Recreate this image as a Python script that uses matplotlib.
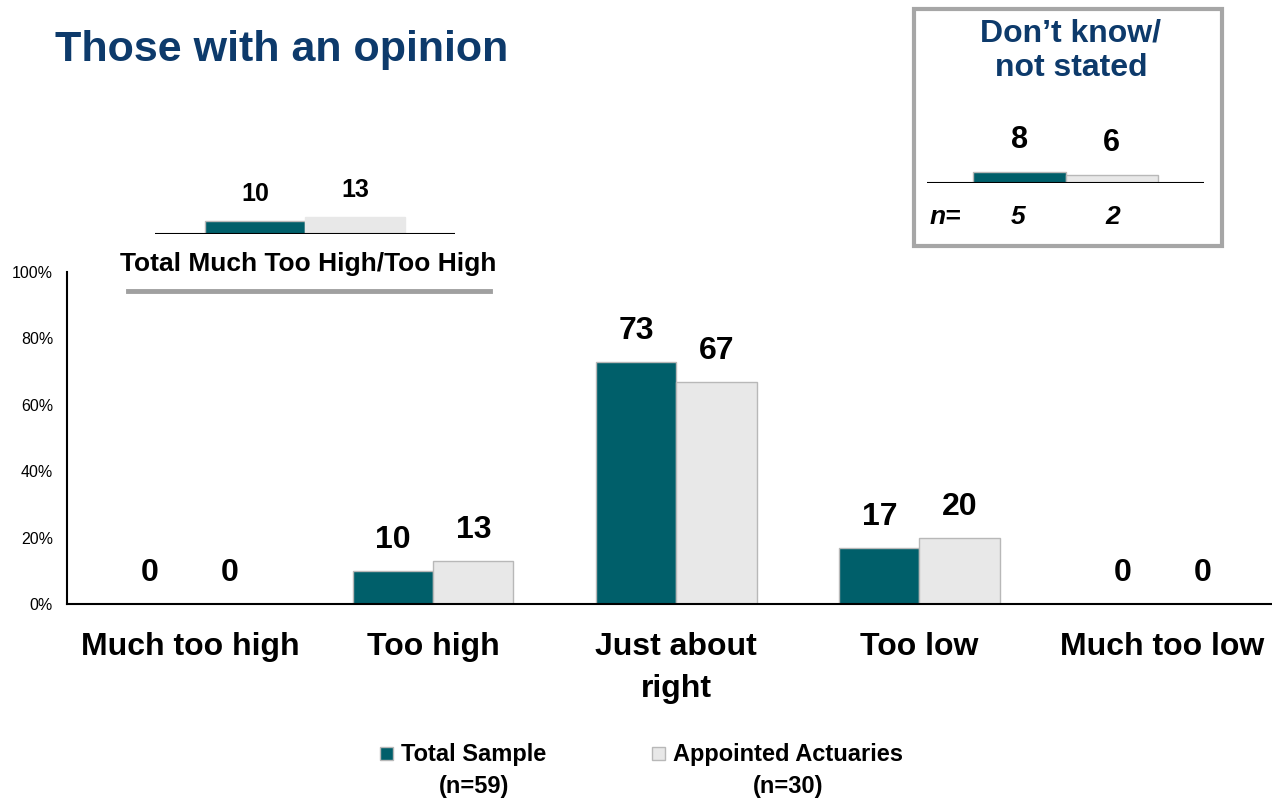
import numpy as np
import matplotlib
matplotlib.use("Agg")
import matplotlib.pyplot as plt
from matplotlib.patches import Rectangle

W, H = 1272, 800

# データ
categories = ["Much too high", "Too high", "Just about\nright", "Too low", "Much too low"]
total_sample = [0, 10, 73, 17, 0]
appointed = [0, 13, 67, 20, 0]
series_names = ["Total Sample\n(n=59)", "Appointed Actuaries\n(n=30)"]

high_total = [10, 13]      # Total Much Too High/Too High
dk_values = [8, 6]         # Don't know / not stated
dk_n = [5, 2]

teal = "#005F6A"
grey = "#E8E8E8"
edge = "#B8B8B8"
navy = "#0D3A6B"

plt.rcParams['font.family'] = ['Liberation Sans', 'DejaVu Sans']


def fx(x):
    return x / W


def fy(y):
    return 1 - y / H


fig = plt.figure(figsize=(W / 100, H / 100), dpi=100)

# メインのグラフ
ax = fig.add_axes([fx(67), fy(604), 1 - fx(67), (604 - 272) / H])
x = np.arange(len(categories))
bw = 0.33
ax.bar(x - bw / 2, total_sample, bw, color=teal, edgecolor=edge, linewidth=1)
ax.bar(x + bw / 2, appointed, bw, color=grey, edgecolor=edge, linewidth=1)
for xi, v in zip(x, total_sample):
    ax.annotate(str(v), (xi - bw / 2, v), xytext=(0, 22), textcoords="offset points",
                ha="center", va="center", fontsize=23, fontweight="bold")
for xi, v in zip(x, appointed):
    ax.annotate(str(v), (xi + bw / 2, v), xytext=(0, 22), textcoords="offset points",
                ha="center", va="center", fontsize=23, fontweight="bold")
ax.set_xlim(-0.506, 4.45)
ax.set_ylim(0, 100)
ax.set_yticks(np.arange(0, 101, 20))
ax.set_yticklabels([f"{v}%" for v in range(0, 101, 20)], fontsize=11.5)
ax.set_xticks(x)
ax.set_xticklabels(categories, fontsize=23, fontweight="bold", linespacing=1.55)
ax.tick_params(axis="both", length=0)
ax.tick_params(axis="x", pad=20)
ax.tick_params(axis="y", pad=10)
for s in ["top", "right"]:
    ax.spines[s].set_visible(False)
ax.spines["left"].set_linewidth(1.5)
ax.spines["bottom"].set_linewidth(1.5)

# タイトル
fig.text(fx(55), fy(50), "Those with an opinion", fontsize=31, fontweight="bold",
         color=navy, ha="left", va="center")

# 左上の小さいグラフ
ax1 = fig.add_axes([fx(155), fy(234), 300 / W, 40 / H])
ax1.bar([-0.5, 0.5], high_total, 1, color=[teal, grey], edgecolor=[edge, grey], linewidth=1)
for xi, v in zip([-0.5, 0.5], high_total):
    ax1.annotate(str(v), (xi, v), xytext=(0, 19), textcoords="offset points",
                 ha="center", va="center", fontsize=18, fontweight="bold")
ax1.set_xlim(-1.5, 1.5)
ax1.set_ylim(0, 30)
ax1.axis("off")
ax1.axhline(0, color="black", linewidth=1.5)
fig.text(fx(308), fy(264), "Total Much Too High/Too High", fontsize=19,
         fontweight="bold", ha="center", va="center")
fig.add_artist(plt.Line2D([fx(128), fx(490)], [fy(291), fy(291)],
                          color="#A0A0A0", linewidth=3.5))

# 右上の枠
fig.add_artist(Rectangle((fx(914), fy(246)), (1222 - 914) / W, (246 - 9) / H,
                         fill=False, edgecolor="#A6A6A6", linewidth=3))
fig.text(fx(1071), fy(51), "Don\u2019t know/\nnot stated", fontsize=23,
         fontweight="bold", color=navy, ha="center", va="center", linespacing=1.2)
ax2 = fig.add_axes([fx(927), fy(183), 277 / W, 40 / H])
ax2.bar([-0.5, 0.5], dk_values, 1, color=[teal, grey], edgecolor=edge, linewidth=1)
for xi, v in zip([-0.5, 0.5], dk_values):
    ax2.annotate(str(v), (xi, v), xytext=(0, 23), textcoords="offset points",
                 ha="center", va="center", fontsize=22, fontweight="bold")
ax2.set_xlim(-1.5, 1.5)
ax2.set_ylim(0, 30)
ax2.axis("off")
ax2.axhline(0, color="black", linewidth=1.5)
fig.text(fx(945), fy(217), "n=", fontsize=19, fontweight="bold", style="italic",
         ha="center", va="center")
for px, n in zip([1018, 1113], dk_n):
    fig.text(fx(px), fy(217), str(n), fontsize=19, fontweight="bold",
             style="italic", ha="center", va="center")

# 凡例
for sx, col, name in zip([380, 652], [teal, grey], series_names):
    fig.add_artist(Rectangle((fx(sx), fy(760)), 13 / W, 13 / H,
                             facecolor=col, edgecolor=edge, linewidth=1))
    first, second = name.split("\n")
    t = fig.text(fx(sx + 21), fy(755), first, fontsize=17, fontweight="bold",
                 ha="left", va="center")
    # 2行目は1行目の中央に揃える
    fig.canvas.draw()
    bb = t.get_window_extent()
    cx = (bb.x0 + bb.x1) / 2 / fig.dpi / fig.get_figwidth()
    fig.text(cx, fy(787), second, fontsize=17, fontweight="bold",
             ha="center", va="center")

plt.savefig("out.png", dpi=100)
